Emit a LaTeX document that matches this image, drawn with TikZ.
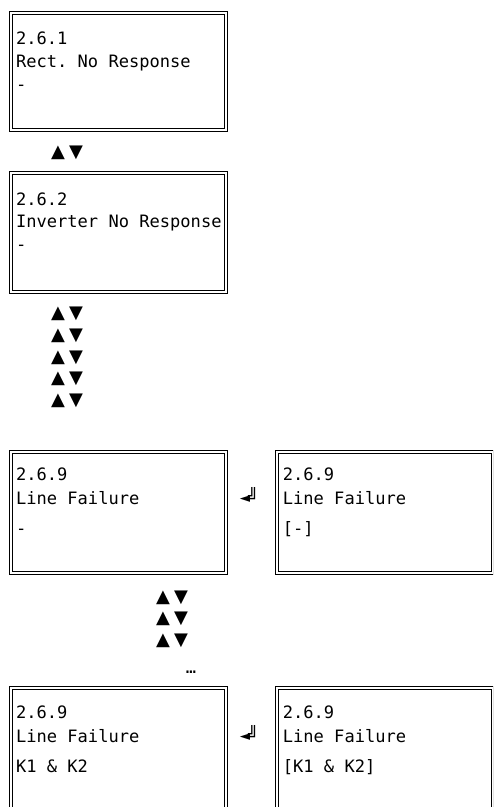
\documentclass[tikz,border=0pt]{standalone}
\usepackage{fontspec}
\setmonofont{DejaVu Sans Mono}
\newfontfamily\simbolos{DejaVu Sans}
\tikzset{
  marco/.style={draw, double, line width=0.7pt, double distance=1.5pt,
    minimum width=161.5pt, minimum height=88.5pt, inner sep=0pt, outer sep=0pt},
  texto/.style={anchor=base west, inner sep=0pt, font=\fontsize{12.8}{14}\selectfont\ttfamily},
  flechas/.style={inner sep=0pt, font=\fontsize{13.5}{14}\selectfont\simbolos},
}
\newcommand{\arribaabajo}{▲\hspace{3.2pt}▼}
\begin{document}
\begin{tikzpicture}[x=0.75pt,y=-0.75pt]
  \useasboundingbox (0,0) rectangle (493,807);
  \clip (0,0) rectangle (493,807);

  % Pantalla 2.6.1
  \node[marco, minimum height=88pt] (rect) at (118.35,71.35) {};
  \node[texto] (rectnum) at (15.8,44) {2.6.1};
  \node[texto] (recttit) at (15.8,67) {Rect. No Response};
  \node[texto] (rectval) at (15.8,90) {-};

  \node[flechas] (f1) at (67,153) {\arribaabajo};

  % Pantalla 2.6.2
  \node[marco, minimum height=89.25pt] (inv) at (118.35,232.5) {};
  \node[texto] (invnum) at (15.8,205) {2.6.2};
  \node[texto] (invtit) at (15.8,227.5) {Inverter No Response};
  \node[texto] (invval) at (15.8,250) {-};

  % Flechas intermedias
  \node[flechas] (f2) at (67,314) {\arribaabajo};
  \node[flechas] (f3) at (67,336) {\arribaabajo};
  \node[flechas] (f4) at (67,357.5) {\arribaabajo};
  \node[flechas] (f5) at (67,379) {\arribaabajo};
  \node[flechas] (f6) at (67,401) {\arribaabajo};

  % Pantalla 2.6.9 y su edicion
  \node[marco, minimum height=90.75pt] (linea) at (118.35,512.5) {};
  \node[texto] (lineanum) at (15.8,480) {2.6.9};
  \node[texto] (lineatit) at (15.8,504) {Line Failure};
  \node[texto] (lineaval) at (15.8,534) {-};
  \node[texto] (e1) at (239.5,503) {◄\kern-1.5pt╝};
  \draw[marco] (277,452) rectangle (493,573);
  \node[texto] (editnum) at (282.6,480) {2.6.9};
  \node[texto] (edittit) at (282.6,504) {Line Failure};
  \node[texto] (editval) at (282.6,534) {[-]};

  \node[flechas] (f7) at (172,597.5) {\arribaabajo};
  \node[flechas] (f8) at (172,619) {\arribaabajo};
  \node[flechas] (f9) at (172,640.5) {\arribaabajo};
  \node[texto] (puntos) at (185.5,673.5) {…};

  % Pantalla 2.6.9 con K1 & K2
  \node[marco, minimum height=91.5pt] (k12) at (118.35,749) {};
  \node[texto] (k12num) at (15.8,718) {2.6.9};
  \node[texto] (k12tit) at (15.8,742) {Line Failure};
  \node[texto] (k12val) at (15.8,772) {K1 \& K2};
  \node[texto] (e2) at (239.5,741) {◄\kern-1.5pt╝};
  \draw[marco] (277,688) rectangle (493,810);
  \node[texto] (k12editnum) at (282.6,718) {2.6.9};
  \node[texto] (k12edittit) at (282.6,742) {Line Failure};
  \node[texto] (k12editval) at (282.6,772) {[K1 \& K2]};
\end{tikzpicture}
\end{document}
